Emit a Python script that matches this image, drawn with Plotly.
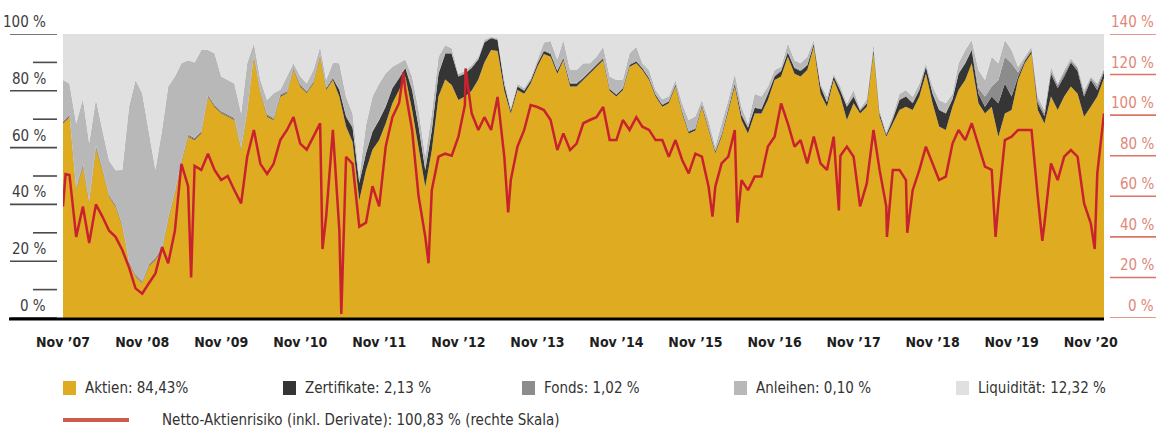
import plotly.graph_objects as go
import pandas as pd

# ---------------- data (monthly, Nov 2007 .. Jan 2021), shares in % ----------------
aktien = [
    68.5, 70.9, 45.0, 53.3, 40.4, 59.7, 52.1, 42.7, 39.2, 32.2,
    19.2, 14.6, 12.2, 18.1, 20.4, 23.9, 34.5, 43.9, 54.5, 63.8,
    62.7, 65.0, 77.9, 74.4, 72.1, 70.9, 69.7, 59.2, 72.1, 92.0,
    79.1, 70.9, 69.7, 77.9, 79.1, 87.3, 81.5, 79.1, 82.6, 92.0,
    80.3, 83.8, 77.9, 67.4, 62.0, 41.5, 52.0, 59.2, 62.7, 68.5,
    75.6, 80.3, 85.0, 73.2, 60.3, 46.2, 59.0, 78.0, 84.0, 82.0,
    76.8, 78.0, 80.0, 84.0, 90.0, 94.4, 94.0, 80.0, 72.0, 80.3,
    79.0, 82.6, 88.5, 93.0, 92.0, 86.0, 90.8, 81.5, 81.5, 83.8,
    86.0, 88.5, 90.8, 80.0, 78.0, 80.3, 88.5, 89.7, 87.3, 83.8,
    78.0, 74.4, 75.6, 81.5, 72.0, 65.0, 66.0, 74.4, 66.2, 58.0,
    63.8, 73.2, 81.5, 69.7, 65.0, 72.0, 72.0, 76.8, 83.8, 85.0,
    92.0, 86.0, 85.0, 87.3, 95.5, 79.0, 74.4, 83.8, 78.0, 69.7,
    75.6, 72.0, 74.4, 93.2, 70.9, 63.8, 68.5, 73.2, 74.4, 73.2,
    78.0, 86.0, 75.6, 67.4, 66.2, 74.4, 80.3, 83.8, 89.7, 75.6,
    72.0, 74.4, 63.8, 72.0, 73.2, 83.8, 89.7, 93.2, 73.2, 68.5,
    78.0, 73.2, 78.0, 81.5, 79.0, 70.9, 74.4, 78.0, 84.43,
]
zertifikate = [
    0.3, 0.3, 0.2, 0.4, 0.3, 0.4, 0.3, 0.2, 0.3, 0.3,
    0.2, 0.2, 0.2, 0.2, 0.3, 0.3, 0.3, 0.3, 0.3, 0.3,
    0.3, 0.3, 0.3, 0.3, 0.3, 0.3, 0.3, 0.3, 0.3, 0.3,
    0.3, 0.3, 0.3, 0.4, 0.3, 0.3, 0.4, 0.3, 0.3, 0.3,
    0.4, 0.5, 2.4, 3.5, 5.0, 6.0, 6.0, 6.4, 7.0, 5.9,
    5.3, 4.1, 3.0, 7.1, 7.1, 5.8, 7.0, 8.0, 9.0, 11.0,
    8.2, 8.0, 8.0, 7.0, 7.0, 4.1, 3.9, 2.0, 1.0, 1.2,
    1.0, 0.9, 1.0, 1.0, 1.0, 1.0, 0.7, 1.0, 1.0, 0.7,
    0.6, 0.6, 0.6, 0.6, 0.6, 0.6, 0.6, 0.6, 0.6, 0.6,
    0.6, 0.6, 0.6, 0.6, 0.6, 0.6, 0.6, 0.6, 0.6, 0.6,
    0.7, 0.8, 1.0, 1.8, 2.0, 2.0, 1.5, 2.2, 1.2, 2.0,
    1.5, 2.0, 2.0, 1.7, 1.0, 2.5, 1.6, 1.2, 2.0, 4.7,
    2.4, 1.0, 1.1, 1.3, 1.1, 0.7, 1.5, 3.6, 3.6, 2.4,
    2.3, 2.5, 3.4, 5.8, 5.8, 2.6, 5.7, 5.9, 4.7, 3.4,
    2.4, 3.6, 11.8, 10.6, 4.8, 1.2, 0.8, 0.8, 2.4, 2.5,
    8.0, 7.8, 7.0, 8.5, 8.0, 7.1, 9.4, 2.3, 2.13,
]
fonds = [
    0.5, 0.5, 0.6, 0.8, 0.5, 0.6, 0.5, 0.5, 0.4, 0.5,
    0.6, 0.6, 0.6, 0.6, 0.6, 0.8, 0.5, 0.5, 0.5, 0.5,
    0.5, 0.5, 0.5, 0.5, 0.5, 0.5, 0.5, 0.5, 0.5, 0.5,
    0.5, 0.5, 0.5, 0.5, 0.5, 0.5, 0.5, 0.5, 0.5, 0.5,
    0.5, 0.5, 0.3, 0.3, 0.3, 0.3, 0.3, 0.3, 0.3, 0.3,
    0.3, 0.3, 0.3, 0.3, 0.3, 0.3, 0.3, 0.3, 0.3, 0.3,
    0.3, 0.3, 0.3, 0.3, 0.3, 0.3, 0.3, 0.3, 0.3, 0.3,
    0.3, 0.3, 0.3, 0.3, 0.3, 0.3, 0.3, 0.3, 0.3, 0.3,
    0.3, 0.3, 0.3, 0.3, 0.3, 0.3, 0.3, 0.3, 0.3, 0.3,
    0.3, 0.3, 0.3, 0.3, 0.3, 0.3, 0.3, 0.3, 0.3, 0.3,
    0.3, 0.3, 0.3, 0.3, 0.3, 0.3, 0.3, 0.3, 0.3, 0.3,
    0.3, 0.3, 0.3, 0.3, 0.3, 0.3, 0.3, 0.3, 0.3, 0.3,
    0.3, 0.3, 0.3, 0.3, 0.3, 0.3, 0.3, 0.3, 0.3, 0.3,
    0.3, 0.3, 0.3, 0.3, 0.3, 0.3, 0.3, 0.3, 0.3, 2.0,
    3.6, 3.5, 8.2, 9.4, 11.7, 1.5, 0.5, 0.5, 0.9, 1.0,
    1.0, 1.0, 1.0, 0.5, 1.0, 1.0, 0.7, 1.2, 1.02,
]
anleihen = [
    14.5, 10.9, 22.7, 22.7, 20.3, 16.3, 13.3, 12.1, 12.1, 19.1,
    54.4, 68.4, 66.1, 47.3, 30.9, 41.5, 46.2, 40.3, 34.4, 26.2,
    26.5, 28.6, 15.7, 18.0, 12.1, 12.1, 12.1, 12.1, 16.8, 3.9,
    3.9, 5.1, 8.6, 1.6, 5.1, 1.6, 2.7, 2.7, 3.9, 2.7,
    2.7, 5.1, 9.1, 6.7, 4.7, 1.8, 9.7, 12.1, 12.6, 11.5,
    7.3, 5.0, 2.7, 4.4, 5.5, 4.5, 5.7, 5.7, 2.7, 1.7,
    0.7, 0.7, 0.7, 0.7, 0.7, 0.2, 0.3, 1.7, 0.7, 0.7,
    0.7, 0.7, 1.2, 2.7, 4.2, 3.7, 6.1, 4.5, 4.5, 4.9,
    2.8, 2.6, 3.8, 4.1, 4.9, 2.8, 3.8, 4.9, 1.5, 2.6,
    1.4, 1.7, 1.5, 1.4, 2.6, 3.8, 4.1, 1.5, 2.4, 1.4,
    3.7, 2.5, 3.2, 2.6, 1.2, 4.7, 4.2, 2.2, 2.0, 1.2,
    2.9, 2.5, 2.4, 2.7, 1.1, 0.8, 1.6, 0.7, 1.2, 0.9,
    2.0, 0.5, 1.2, 1.9, 0.9, 0.7, 1.2, 1.9, 2.0, 2.0,
    2.0, 0.9, 2.2, 3.3, 3.3, 1.7, 3.4, 4.4, 3.2, 6.3,
    5.8, 10.5, 5.9, 5.9, 4.7, 2.0, 1.0, 1.0, 1.5, 1.2,
    1.5, 0.6, 1.3, 1.0, 0.5, 1.3, 0.5, 1.1, 0.10,
]
# Netto-Aktienrisiko (right scale, %)
netto = [
    55.0, 70.5, 40.0, 55.0, 37.0, 56.0, 50.0, 43.0, 40.0, 33.5,
    25.0, 14.6, 12.0, 17.0, 22.0, 35.0, 27.0, 43.0, 76.0, 65.0,
    75.0, 73.0, 81.0, 73.0, 68.0, 70.0, 63.0, 56.5, 79.5, 92.7,
    76.0, 71.0, 76.0, 87.7, 92.7, 99.0, 86.0, 83.0, 89.4, 96.0,
    50.0, 92.7, 43.0, 79.5, 76.0, 45.0, 47.0, 65.0, 55.0, 84.5,
    99.0, 106.0, 112.0, 92.7, 60.0, 40.0, 63.0, 79.5, 81.0, 80.0,
    89.4, 105.0, 101.0, 92.7, 99.0, 92.7, 109.0, 79.5, 68.0, 84.5,
    92.7, 105.0, 104.0, 102.5, 97.6, 82.8, 91.0, 82.8, 86.0, 96.0,
    97.6, 99.0, 104.0, 87.7, 87.7, 97.6, 92.7, 99.0, 94.3, 92.7,
    87.7, 87.7, 79.5, 87.7, 77.9, 71.3, 81.0, 79.5, 64.7, 64.7,
    76.2, 79.5, 92.7, 68.0, 63.0, 69.7, 69.7, 84.5, 89.4, 105.8,
    96.0, 84.5, 87.7, 76.2, 89.4, 76.2, 73.0, 89.4, 80.0, 84.5,
    79.5, 55.0, 66.4, 92.7, 73.0, 55.0, 73.0, 73.0, 68.0, 63.0,
    73.0, 84.5, 76.2, 68.0, 69.7, 86.0, 92.7, 87.7, 96.0, 84.5,
    74.6, 73.0, 56.5, 87.7, 89.4, 92.7, 92.7, 92.7, 59.8, 46.7,
    76.2, 68.0, 79.5, 82.8, 79.5, 56.5, 46.7, 71.3, 100.83,
]
# short-lived extremes of the red line between the monthly readings
netto_spike_dates = [
    "2007-11-13", "2009-06-15", "2011-02-12", "2011-05-10", "2012-02-21",
    "2012-06-16", "2012-12-04", "2013-06-19", "2016-01-19", "2016-05-13",
    "2017-08-25", "2018-04-04", "2018-07-07", "2019-08-19", "2020-03-22",
    "2020-11-19",
]
netto_spike_values = [
    71.0, 20.0, 34.0, 2.0, 121.0,
    27.0, 123.0, 52.0, 50.0, 47.0,
    53.0, 40.0, 42.0, 40.0, 38.0,
    34.0,
]

start_month = "2007-11-01"
x_end = "2021-01-01"
tick_years = list(range(2007, 2021))
tick_labels = [f"Nov ’{y % 100:02d}" for y in tick_years]
left_ticks = [0, 20, 40, 60, 80, 100]
left_minor = [10, 30, 50, 70, 90]
right_ticks = [0, 20, 40, 60, 80, 100, 120, 140]

legend_items = [
    ("Aktien: 84,43%", "Aktien"),
    ("Zertifikate: 2,13 %", "Zertifikate"),
    ("Fonds: 1,02 %", "Fonds"),
    ("Anleihen: 0,10 %", "Anleihen"),
    ("Liquidität: 12,32 %", "Liquidität"),
]
line_legend = "Netto-Aktienrisiko (inkl. Derivate): 100,83 % (rechte Skala)"

# ---------------- styling ----------------
COLORS = {
    "Aktien": "#dfab21",
    "Zertifikate": "#353535",
    "Fonds": "#8c8c8c",
    "Anleihen": "#b8b8b8",
    "Liquidität": "#e0e0e0",
}
RED = "#c8222f"
RED_LEG = "#cf5c48"
RIGHT_TXT = "#e08777"
RIGHT_LINE = "#dc7563"
LEFT_TXT = "#3c3c3c"
FONT = "Liberation Sans Narrow, DejaVu Sans Condensed, Arial Narrow, sans-serif"

W, H = 1162, 428
L, R, T, B = 63, 1104, 34, 318  # plot area (px)


def px(x):
    return (x - L) / (R - L)


def py(y):
    return (B - y) / (B - T)


n = len(aktien)
assert n == len(zertifikate) == len(fonds) == len(anleihen) == len(netto)
dates = pd.date_range(start_month, periods=n, freq="MS")
liquiditaet = [round(100 - a - z - f - b, 2) for a, z, f, b in zip(aktien, zertifikate, fonds, anleihen)]

series = {
    "Aktien": aktien,
    "Zertifikate": zertifikate,
    "Fonds": fonds,
    "Anleihen": anleihen,
    "Liquidität": liquiditaet,
}

fig = go.Figure()
for name, vals in series.items():
    fig.add_trace(go.Scatter(
        x=dates, y=vals, name=name, stackgroup="one", mode="lines",
        line=dict(width=0, color=COLORS[name]), fillcolor=COLORS[name],
        showlegend=False, hoverinfo="skip",
    ))

red = pd.concat([
    pd.Series(netto, index=dates),
    pd.Series(netto_spike_values, index=pd.to_datetime(netto_spike_dates)),
]).sort_index()
fig.add_trace(go.Scatter(
    x=red.index, y=red.values, yaxis="y2", mode="lines",
    line=dict(color=RED, width=2.5), showlegend=False, hoverinfo="skip",
))

shapes = []
annotations = []

# left axis ticks + labels
for v in left_ticks:
    shapes.append(dict(type="line", xref="paper", yref="y", x0=px(10), x1=px(57), y0=v, y1=v,
                       line=dict(color="#4a4a4a", width=1.6)))
    annotations.append(dict(xref="paper", yref="y", x=px(48), y=v, text=f"{v} %", showarrow=False,
                            xanchor="right", yanchor="bottom", yshift=1,
                            font=dict(family=FONT, size=15, color=LEFT_TXT)))
for v in left_minor:
    shapes.append(dict(type="line", xref="paper", yref="y", x0=px(33), x1=px(57), y0=v, y1=v,
                       line=dict(color="#4a4a4a", width=1.6)))

# right axis ticks + labels
for v in right_ticks:
    shapes.append(dict(type="line", xref="paper", yref="y2", x0=px(1110), x1=px(1156), y0=v, y1=v,
                       line=dict(color=RIGHT_LINE, width=1.6)))
    annotations.append(dict(xref="paper", yref="y2", x=px(1156), y=v, text=f"{v} %", showarrow=False,
                            xanchor="right", yanchor="bottom", yshift=1,
                            font=dict(family=FONT, size=15, color=RIGHT_TXT)))

# bottom base line
shapes.append(dict(type="line", xref="paper", yref="paper", x0=px(9), x1=1, y0=py(319), y1=py(319),
                   line=dict(color="#000000", width=3), layer="above"))

# legend
sq_x = [63, 283, 522, 734, 956]
for (label, key), x0 in zip(legend_items, sq_x):
    shapes.append(dict(type="rect", xref="paper", yref="paper", x0=px(x0), x1=px(x0 + 13),
                       y0=py(395), y1=py(381), fillcolor=COLORS[key], line=dict(width=0)))
    annotations.append(dict(xref="paper", yref="paper", x=px(x0 + 20), y=py(388), text=label,
                            showarrow=False, xanchor="left", yanchor="middle",
                            font=dict(family=FONT, size=15, color="#333333")))
shapes.append(dict(type="line", xref="paper", yref="paper", x0=px(63), x1=px(129), y0=py(420), y1=py(420),
                   line=dict(color=RED_LEG, width=4)))
annotations.append(dict(xref="paper", yref="paper", x=px(160), y=py(420), text=line_legend,
                        showarrow=False, xanchor="left", yanchor="middle",
                        font=dict(family=FONT, size=15, color="#333333")))

fig.update_layout(
    width=W, height=H,
    margin=dict(l=L, r=W - R, t=T, b=H - B),
    paper_bgcolor="white", plot_bgcolor="white",
    xaxis=dict(
        type="date", range=[start_month, x_end], showgrid=False, zeroline=False, showline=False,
        tickvals=[f"{y}-11-01" for y in tick_years], ticktext=tick_labels,
        ticks="outside", ticklen=11, tickcolor="rgba(0,0,0,0)",
        tickfont=dict(family=FONT, size=14, color="#1e1e1e", weight="bold"),
    ),
    yaxis=dict(range=[0, 100], showgrid=False, zeroline=False, showticklabels=False, showline=False),
    yaxis2=dict(range=[0, 140], overlaying="y", side="right", showgrid=False, zeroline=False,
                showticklabels=False, showline=False),
    shapes=shapes, annotations=annotations,
    showlegend=False,
)

fig.write_html("out.html", config={"displayModeBar": False},
               post_script="document.body.style.margin='0px';")
